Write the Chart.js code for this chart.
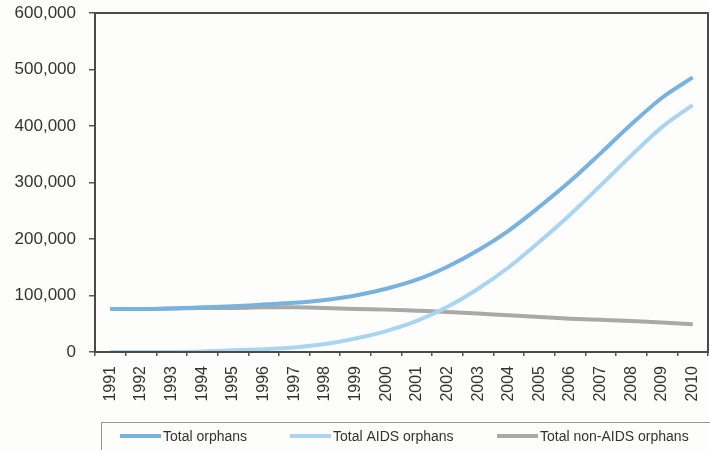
<!DOCTYPE html>
<html>
<head>
<meta charset="utf-8">
<script src="https://cdn.jsdelivr.net/npm/chart.js@4.4.1/dist/chart.umd.min.js"></script>
<style>
  html, body { margin: 0; padding: 0; background: #fdfdfc; }
  #wrap { width: 710px; height: 450px; position: relative; }
</style>
</head>
<body>
<div id="wrap"><canvas id="c" width="710" height="450"></canvas></div>
<script>
const years = ["1991","1992","1993","1994","1995","1996","1997","1998","1999","2000",
               "2001","2002","2003","2004","2005","2006","2007","2008","2009","2010"];
const totalOrphans = [76000, 76000, 77000, 79000, 81000, 84000, 87000, 92000, 100000, 112000,
                      128000, 151000, 180000, 215000, 257000, 302000, 352000, 403000, 450000, 486000];
const aidsOrphans = [0, 0, 0, 1000, 3000, 5000, 8000, 14000, 24000, 37000,
                     55000, 80000, 112000, 150000, 195000, 243000, 295000, 348000, 398000, 437000];
const nonAidsOrphans = [76000, 76000, 77000, 78000, 78000, 79000, 79000, 78000, 76000, 75000,
                        73000, 71000, 68000, 65000, 62000, 59000, 57000, 55000, 52000, 49000];
const yTicks = [0, 100000, 200000, 300000, 400000, 500000, 600000];
const seriesNames = ["Total orphans", "Total AIDS orphans", "Total non-AIDS orphans"];
const seriesColors = ["#78b2df", "#aad5f1", "#a9a9aa"];

const frame = {
  id: 'frame',
  afterDraw(chart) {
    const {ctx, chartArea: a} = chart;
    ctx.save();
    ctx.strokeStyle = '#4a4a4a';
    ctx.lineWidth = 2;
    ctx.strokeRect(a.left, a.top, a.right - a.left, a.bottom - a.top);
    // legend box
    ctx.strokeStyle = '#9a9a9a';
    ctx.lineWidth = 1;
    ctx.strokeRect(101.5, 422.5, 620, 40);
    ctx.font = '14px "Liberation Sans", Arial, sans-serif';
    ctx.fillStyle = '#333';
    ctx.textBaseline = 'middle';
    const xs = [120, 290, 497];
    chart.data.datasets.forEach((ds, i) => {
      ctx.strokeStyle = ds.borderColor;
      ctx.lineWidth = 4;
      ctx.beginPath();
      ctx.moveTo(xs[i], 436);
      ctx.lineTo(xs[i] + 41, 436);
      ctx.stroke();
      ctx.fillText(ds.label, xs[i] + 43, 437);
    });
    ctx.restore();
  }
};

new Chart(document.getElementById('c'), {
  type: 'line',
  data: {
    labels: years,
    datasets: [
      { label: seriesNames[0], data: totalOrphans, borderColor: seriesColors[0] },
      { label: seriesNames[1], data: aidsOrphans, borderColor: seriesColors[1] },
      { label: seriesNames[2], data: nonAidsOrphans, borderColor: seriesColors[2] }
    ].map(d => Object.assign(d, { borderWidth: 4, pointRadius: 0, tension: 0.4, fill: false, cubicInterpolationMode: 'monotone' }))
  },
  options: {
    responsive: false,
    animation: false,
    layout: { padding: { top: 13, right: 2, bottom: 36, left: 0 } },
    plugins: { legend: { display: false }, tooltip: { enabled: false } },
    scales: {
      x: {
        offset: true,
        grid: { display: true, offset: true, drawOnChartArea: false, drawTicks: true, tickLength: 4, color: '#555', lineWidth: 1.5 },
        border: { display: false },
        ticks: { minRotation: 90, maxRotation: 90, autoSkip: false, color: '#333', padding: 10,
                 font: { family: '"Liberation Sans", Arial, sans-serif', size: 16 } },
        afterFit(s) { s.height = 62; s.paddingLeft = 0; s.paddingRight = 0; }
      },
      y: {
        min: 0, max: 600000,
        afterBuildTicks(s) { s.ticks = yTicks.map(v => ({ value: v })); },
        grid: { display: true, drawOnChartArea: false, drawTicks: true, tickLength: 6, color: '#555', lineWidth: 1.5 },
        border: { display: false },
        ticks: { color: '#333', padding: 13,
                 font: { family: '"Liberation Sans", Arial, sans-serif', size: 17 },
                 callback: v => v.toLocaleString('en-US') },
        afterFit(s) { s.width = 95; s.paddingTop = 0; s.paddingBottom = 0; }
      }
    }
  },
  plugins: [frame]
});
</script>
</body>
</html>
